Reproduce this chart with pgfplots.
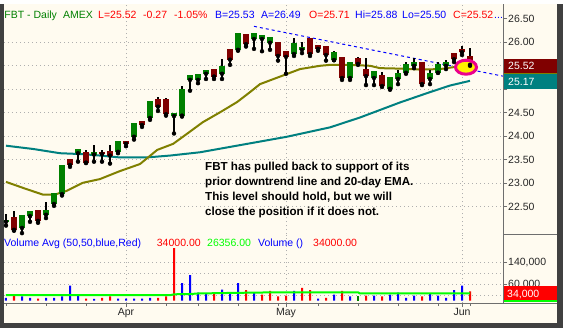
\documentclass[border=0pt]{standalone}
\usepackage{pgfplots}
\pgfplotsset{compat=1.18}
\usepackage{pgfplotstable}
\usepackage{fontspec}
\setmainfont{Liberation Sans}
\definecolor{bg}{RGB}{255,251,240}
\definecolor{frame}{RGB}{64,64,64}
\definecolor{upc}{RGB}{0,128,0}
\definecolor{dnc}{RGB}{128,0,0}
\definecolor{ema20}{RGB}{128,128,0}
\definecolor{ema50}{RGB}{0,128,128}
\definecolor{gridc}{RGB}{175,175,175}
\definecolor{axc}{RGB}{110,110,110}
\definecolor{vgreen}{RGB}{0,255,0}
\definecolor{hgreen}{RGB}{0,128,0}
\definecolor{hred}{RGB}{255,0,0}
\definecolor{hblue}{RGB}{0,0,255}
\newcommand{\hf}{\fontsize{10.5}{12.6}\selectfont}

\pgfplotstableread{
i O H L C
0 22.18 22.35 22.10 22.22
2 22.05 22.33 21.94 22.33
3 22.30 22.40 22.18 22.40
5 22.33 22.60 22.26 22.43
6 22.56 22.79 22.52 22.79
7 22.77 23.39 22.74 23.39
9 23.64 23.73 23.46 23.73
11 23.61 23.81 23.46 23.66
14 23.67 23.90 23.64 23.90
16 23.99 24.28 23.93 24.28
18 24.39 24.75 24.35 24.75
21 24.43 24.49 24.06 24.49
22 24.44 25.06 24.42 25.01
23 25.20 25.30 24.97 25.30
24 25.20 25.33 25.13 25.33
25 25.33 25.41 25.22 25.41
27 25.33 25.65 25.22 25.50
29 25.84 26.20 25.82 26.20
31 26.07 26.19 25.86 26.19
32 26.07 26.16 25.81 26.16
33 25.99 26.11 25.84 26.11
36 25.75 26.09 25.71 25.99
37 25.84 26.01 25.77 25.90
41 25.62 25.82 25.62 25.79
43 25.24 25.58 25.20 25.58
46 25.24 25.39 25.09 25.39
48 25.01 25.26 24.99 25.26
49 25.22 25.41 25.11 25.35
50 25.35 25.58 25.33 25.54
51 25.50 25.67 25.45 25.58
53 25.22 25.41 25.11 25.35
54 25.35 25.58 25.35 25.54
55 25.50 25.62 25.43 25.58
}\tabup

\pgfplotstableread{
i O H L C
1 22.28 22.40 21.99 22.01
4 22.43 22.43 22.16 22.20
8 23.52 23.52 23.35 23.39
10 23.67 23.71 23.43 23.44
12 23.67 23.71 23.46 23.62
13 23.69 23.81 23.42 23.59
15 23.90 23.90 23.79 23.84
17 24.33 24.33 24.20 24.24
19 24.80 24.84 24.54 24.63
20 24.80 24.81 24.44 24.47
26 25.43 25.43 25.22 25.27
28 25.86 25.86 25.52 25.63
30 26.18 26.18 25.91 25.96
34 26.01 26.01 25.61 25.71
35 25.81 25.81 25.33 25.69
38 26.09 26.09 25.71 25.75
39 25.94 25.94 25.82 25.86
40 25.92 25.92 25.61 25.73
42 25.69 25.69 25.20 25.24
44 25.67 25.69 25.52 25.54
45 25.43 25.67 25.09 25.28
47 25.30 25.37 25.05 25.07
52 25.58 25.58 25.09 25.11
56 25.77 25.77 25.58 25.64
57 25.86 25.92 25.73 25.79
58 25.71 25.88 25.50 25.52
}\tabdn

\pgfplotstableread{
i v
0 10
2 15
3 10
5 10
6 10
7 15
8 55
9 22
11 6
14 7
15 7
16 7
17 7
18 10
22 64
23 94
24 29
25 25
27 40
28 29
29 64
31 29
36 36
39 7
41 22
43 15
46 18
48 22
49 29
50 10
51 18
53 25
54 18
55 10
56 38
57 55
}\volblue

\pgfplotstableread{
i v
1 20
4 7
10 7
12 10
13 15
19 10
20 15
21 194
26 29
30 38
32 22
33 36
34 15
35 18
37 47
38 38
40 10
42 36
45 18
47 15
52 15
58 34
}\volred

\pgfplotstableread{
i v
44 15
}\volgreen

\begin{document}
\begin{tikzpicture}
\begin{scope}[x=1pt,y=1pt]
\fill[frame] (0,0) rectangle (563,324);
\fill[bg] (4,5) rectangle (557,324);
\end{scope}

% ---------- price panel ----------
\begin{axis}[at={(4pt,94pt)}, anchor=south west, scale only axis,
  width=499pt, height=230pt,
  xmin=-0.25, xmax=62.125, ymin=21.921, ymax=26.815,
  axis line style={draw=none},
  xtick={15,35,57}, xticklabels={}, xtick style={draw=none},
  ytick={22.5,23,23.5,24,24.5,25,25.5,26},
  yticklabels={22.50,23.00,23.50,24.00,24.50,,,26.00},
  extra y ticks={26.5}, extra y tick labels={26.50}, extra y tick style={grid=none},
  ytick pos=right, yticklabel pos=right,
  tick align=outside, major tick length=4pt,
  ytick style={draw=axc, line width=0.8pt},
  grid=major, major grid style={draw=gridc, dash pattern=on 1pt off 3pt, line width=0.8pt},
  yticklabel style={font=\hf, text=black!85, inner sep=1pt},
  clip=true]
% highlight circle
\addplot[only marks, mark=*, mark size=7pt,
  mark options={fill=yellow, draw=magenta, line width=3pt, xscale=1.5}]
  coordinates {(57.5,25.47)};
% 50-day EMA
\addplot[ema50, line width=2pt] coordinates {
(0,23.80) (3.4,23.73) (6.75,23.64) (9.6,23.62) (11.75,23.59) (14.25,23.55)
(17.6,23.55) (20.5,23.59) (24.25,23.66) (30.5,23.85) (35.1,23.99) (40.5,24.19)
(44.25,24.40) (46.75,24.56) (49.25,24.72) (53,24.94) (55.5,25.08) (58,25.18)};
% 20-day EMA
\addplot[ema20, line width=2pt] coordinates {
(0,23.03) (2.5,22.88) (4.6,22.76) (6.1,22.76) (7.6,22.84) (9.6,23.01)
(11.75,23.09) (14.25,23.26) (16.75,23.41) (18.9,23.71) (20.9,23.84)
(22.6,24.05) (24.6,24.30) (26.75,24.51) (28.9,24.73) (30.5,24.94)
(31.75,25.11) (34.25,25.27) (36.75,25.43) (39.25,25.50) (40.5,25.52)
(43,25.52) (45.5,25.50) (46.75,25.45) (49.25,25.44) (51.75,25.42)
(54.25,25.43) (55.9,25.47) (58,25.50)};
% downtrend line
\addplot[hblue, line width=1pt, dash pattern=on 3pt off 3pt] coordinates {(31,26.34) (62.1,25.28)};
% wicks
\addplot[only marks, mark=none, error bars/.cd, y dir=plus, y explicit,
  error mark=none, error bar style={draw=black, line width=1.8pt}]
  table[x=i, y=L, y error plus expr=\thisrow{H}-\thisrow{L}] {\tabup};
\addplot[only marks, mark=none, error bars/.cd, y dir=plus, y explicit,
  error mark=none, error bar style={draw=black, line width=1.8pt}]
  table[x=i, y=L, y error plus expr=\thisrow{H}-\thisrow{L}] {\tabdn};
% bodies
\addplot[only marks, mark=none, error bars/.cd, y dir=plus, y explicit,
  error mark=none, error bar style={draw=upc, line width=6pt}]
  table[x=i, y=O, y error plus expr=\thisrow{C}-\thisrow{O}] {\tabup};
\addplot[only marks, mark=none, error bars/.cd, y dir=plus, y explicit,
  error mark=none, error bar style={draw=dnc, line width=6pt}]
  table[x=i, y=C, y error plus expr=\thisrow{O}-\thisrow{C}] {\tabdn};
\end{axis}

% ---------- volume panel ----------
\begin{axis}[at={(4pt,25pt)}, anchor=south west, scale only axis,
  width=499pt, height=68.3pt,
  xmin=-0.25, xmax=62.125, ymin=-9.26, ymax=243.7,
  axis line style={draw=none},
  xtick={15,35,57}, xticklabels={Apr,May,Jun},
  minor xtick={0,5,10,20,24,29,34,39,44,49,54,58},
  xtick pos=bottom,
  ytick={60,140}, yticklabels={{60,000},{140,000}},
  extra y ticks={20,100}, extra y tick labels={}, extra y tick style={ytick style={draw=none}},
  ytick pos=right, yticklabel pos=right,
  tick align=outside, major tick length=4pt, minor tick length=2.5pt,
  every tick/.style={draw=axc, line width=0.8pt},
  grid=major, major grid style={draw=gridc, dash pattern=on 1pt off 3pt, line width=0.8pt},
  xticklabel style={font=\hf, text=black!85, inner sep=1pt},
  yticklabel style={font=\hf, text=black!85, inner sep=1pt},
  clip=true]
\addplot[ybar, bar width=2pt, bar shift=0pt, fill=hblue, draw=none] table[x=i, y=v] {\volblue};
\addplot[ybar, bar width=2pt, bar shift=0pt, fill=hred, draw=none] table[x=i, y=v] {\volred};
\addplot[ybar, bar width=2pt, bar shift=0pt, fill=upc, draw=none] table[x=i, y=v] {\volgreen};
\addplot[vgreen, line width=2pt] coordinates {
(0,19.5) (20.5,19.5) (21,23) (23,24) (24,26) (28,28) (33,30) (34,30.4) (44,30.4)
(44.2,26.7) (58,26.4)};
\end{axis}

\begin{scope}[x=1pt,y=1pt]
% axis lines and separators
\draw[axc, line width=1pt] (503,25) -- (503,324);
\draw[axc, line width=1pt] (4,25) -- (557,25);
\draw[axc, line width=1pt] (503,93.3) -- (557,93.3);

% price label boxes
\fill[ema20] (504,254) rectangle (557,256.5);
\fill[dnc] (504,255.5) rectangle (557,269);
\node[anchor=base west, inner sep=0, text=white, font=\hf] at (508,258.3) {25.52};
\fill[ema50] (504,239) rectangle (557,254);
\node[anchor=base west, inner sep=0, text=white, font=\hf] at (508,242.5) {25.17};
% volume label box
\fill[vgreen] (504,26) rectangle (557,28.5);
\fill[hred] (504,28) rectangle (557,42);
\node[anchor=base west, inner sep=0, text=white, font=\hf] at (507,31) {34,000};

% header
\begin{scope}[every node/.style={anchor=base west, inner sep=0, font=\hf}]
\node[text=hgreen] at (4.3,310) {FBT - Daily};
\node[text=hgreen] at (63,310) {AMEX};
\node[text=hred] at (98,310) {L=25.52};
\node[text=hred] at (143,310) {-0.27};
\node[text=hred] at (174,310) {-1.05\%};
\node[text=hblue] at (215,310) {B=25.53};
\node[text=hblue] at (261,310) {A=26.49};
\node[text=hred] at (309,310) {O=25.71};
\node[text=hblue] at (355,310) {Hi=25.88};
\node[text=hblue] at (402,310) {Lo=25.50};
\node[text=hred] at (453,310) {C=25.52};
\end{scope}
\fill[bg] (492.5,306) rectangle (502.5,320);
\node[anchor=base west, inner sep=0, font=\hf, text=hblue] at (494,310) {...};

% volume header
\begin{scope}[every node/.style={anchor=base west, inner sep=0, font=\hf}]
\node[text=hblue] at (4,82) {Volume Avg (50,50,blue,Red)};
\node[text=hred] at (156.7,82) {34000.00};
\node[text=vgreen] at (207,82) {26356.00};
\node[text=hblue] at (258,82) {Volume ()};
\node[text=hred] at (313,82) {34000.00};
\end{scope}

% annotation
\begin{scope}[every node/.style={anchor=base west, inner sep=0, font=\fontsize{11.6}{14}\selectfont\bfseries, text=black}]
\node at (205,157.3) {FBT has pulled back to support of its};
\node at (205,142.5) {prior downtrend line and 20-day EMA.};
\node at (205,127.7) {This level should hold, but we will};
\node at (205,112.9) {close the position if it does not.};
\end{scope}
\end{scope}
\end{tikzpicture}
\end{document}
